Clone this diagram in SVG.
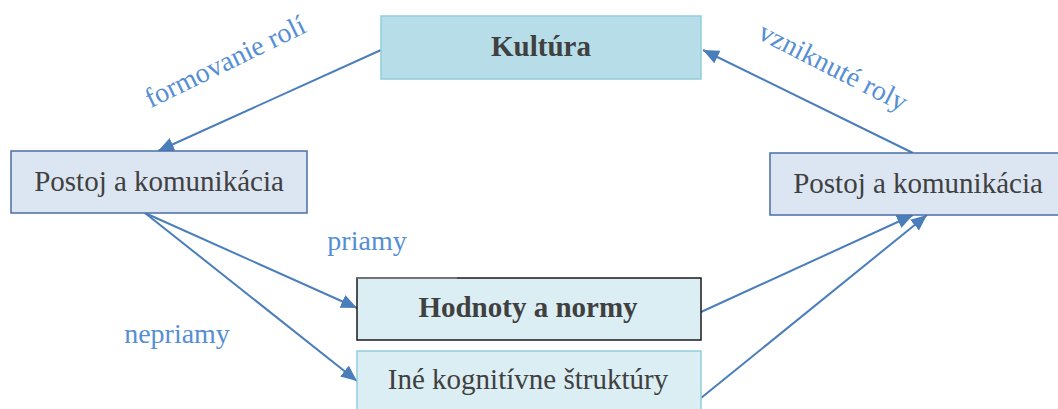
<svg xmlns="http://www.w3.org/2000/svg" width="1058" height="409" viewBox="0 0 1058 409">
<style>
.nt{font-family:"Liberation Serif","Times New Roman",serif;font-size:29px;fill:#404040;text-anchor:middle}
.b{font-weight:bold}
.lb{font-family:"Liberation Serif","Times New Roman",serif;font-size:28px;fill:#558ed5;text-anchor:middle}
.cn{stroke:#4a7ebb;stroke-width:2;fill:none;marker-end:url(#ah)}
</style>
<defs>
<marker id="ah" markerUnits="userSpaceOnUse" markerWidth="18" markerHeight="16" refX="16" refY="7" orient="auto" viewBox="0 0 18 16">
<path d="M0,0 L16,7 L0,14 z" fill="#4a7ebb"/>
</marker>
</defs>
<rect width="1058" height="409" fill="#ffffff"/>
<g id="connectors">
<line class="cn" x1="381" y1="50" x2="158" y2="151"/>
<line class="cn" x1="913" y1="153" x2="703" y2="50"/>
<line class="cn" x1="145" y1="213" x2="357" y2="308"/>
<line class="cn" x1="145" y1="213" x2="357" y2="381"/>
<line class="cn" x1="701" y1="312" x2="913" y2="215"/>
<line class="cn" x1="701" y1="398" x2="927" y2="215"/>
</g>
<g id="node-kultura">
<rect x="381" y="16" width="320" height="63" fill="#b7dee8" stroke="#93cddd" stroke-width="1.5"/>
<text class="nt b" x="541" y="56">Kultúra</text>
</g>
<g id="node-postoj-left">
<rect x="11" y="151" width="296" height="62" fill="#dce6f2" stroke="#4a6fa5" stroke-width="1.5"/>
<text class="nt" x="159" y="191">Postoj a komunikácia</text>
</g>
<g id="node-postoj-right">
<rect x="770" y="153" width="296" height="62" fill="#dce6f2" stroke="#4a6fa5" stroke-width="1.5"/>
<text class="nt" x="918" y="193">Postoj a komunikácia</text>
</g>
<g id="node-hodnoty">
<rect x="357" y="278" width="344" height="62" fill="#dbeef4" stroke="#1a1a1a" stroke-width="1.5"/>
<line x1="357" y1="278" x2="457" y2="278" stroke="#7f7f7f" stroke-width="1.6"/>
<text class="nt b" x="528" y="317">Hodnoty a normy</text>
</g>
<g id="node-ine">
<rect x="357" y="351" width="344" height="70" fill="#dbeef4" stroke="#93cddd" stroke-width="1.5"/>
<text class="nt" x="528" y="389">Iné kognitívne štruktúry</text>
</g>
<g id="labels">
<text class="lb" transform="translate(229,70) rotate(-26)">formovanie rolí</text>
<text class="lb" transform="translate(829,75) rotate(27)">vzniknuté roly</text>
<text class="lb" x="367" y="250">priamy</text>
<text class="lb" x="177" y="343">nepriamy</text>
</g>
</svg>
